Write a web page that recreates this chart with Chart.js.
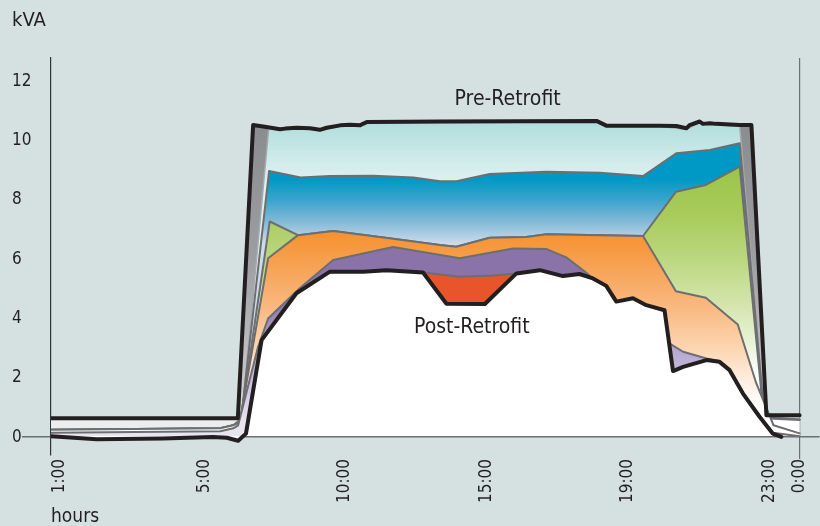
<!DOCTYPE html>
<html lang="en">
<head>
<meta charset="UTF-8">
<title>Pre- and Post-Retrofit Load Profile</title>
<script src="https://cdn.jsdelivr.net/npm/chart.js"></script>
<style>
    body { margin: 0; background: #d5e1e1; }
    canvas { display: block; }
</style>
</head>
<body>
<canvas id="load-chart" width="820" height="526"></canvas>
<script>
    const FONT = "'Liberation Sans Narrow', 'DejaVu Sans Condensed', 'Roboto Condensed', sans-serif";
    const INK = '#231f20';
    const EDGE = '#6d6e70';

    // hour labels and where they sit on the axis
    const xTickPos = [1.25, 5.73, 10.03, 14.39, 18.72, 23.08, 24.0];
    const xTickLabels = ['1:00', '5:00', '10:00', '15:00', '19:00', '23:00', '0:00'];
    const yTicks = [0, 2, 4, 6, 8, 10, 12];

    // [x, kVA] pairs
    const preRetrofit = [[1.0, 0.64], [6.74, 0.64], [7.21, 10.52], [7.52, 10.47], [8.04, 10.38], [8.19, 10.40],
        [8.55, 10.43], [8.96, 10.41], [9.26, 10.36], [9.47, 10.43], [9.88, 10.51], [10.19, 10.53], [10.49, 10.51],
        [10.60, 10.57], [10.70, 10.62], [12.95, 10.64], [17.76, 10.66], [18.06, 10.50], [19.70, 10.50],
        [20.21, 10.49], [20.52, 10.41], [20.62, 10.52], [20.93, 10.64], [21.03, 10.56], [21.24, 10.58],
        [21.44, 10.56], [22.16, 10.52], [22.52, 10.52], [22.98, 0.74], [24.0, 0.74]];

    const postRetrofit = [[1.0, 0.03], [2.4, -0.07], [4.44, -0.04], [5.97, 0.01], [6.4, -0.02], [6.75, -0.12],
        [6.99, 0.12], [7.47, 3.27], [8.54, 4.85], [9.57, 5.58], [10.59, 5.58], [11.31, 5.63], [12.43, 5.55],
        [13.15, 4.50], [14.33, 4.49], [15.30, 5.52], [16.02, 5.63], [16.73, 5.43], [17.24, 5.50], [17.65, 5.35],
        [18.06, 5.10], [18.37, 4.57], [18.88, 4.68], [19.29, 4.45], [19.85, 4.28], [20.11, 2.23], [20.42, 2.37],
        [21.14, 2.60], [21.54, 2.54], [21.85, 2.26], [22.26, 1.47], [22.77, 0.69], [23.18, 0.12], [23.44, 0.01]];

    const dipTop = [[12.43, 5.55], [13.56, 5.41], [14.6, 5.45], [15.3, 5.52]];

    const purpleTop = [[1.0, 0.15], [6.2, 0.2], [6.6, 0.3], [6.75, 0.4], [7.35, 3.0], [7.67, 4.0], [8.65, 5.03],
        [9.67, 5.97], [11.51, 6.41], [13.56, 6.03], [15.20, 6.36], [16.23, 6.34], [16.85, 6.05], [17.47, 5.52],
        [17.65, 5.35], [18.06, 5.10], [18.37, 4.57], [18.88, 4.68], [19.29, 4.45], [19.85, 4.28], [20.0, 3.16],
        [20.42, 2.88], [21.14, 2.65], [21.54, 2.56], [21.85, 2.28], [22.26, 1.5], [22.77, 0.72], [23.18, 0.15],
        [24.0, 0.03]];

    const orangeTop = [[1.0, 0.25], [6.2, 0.3], [6.6, 0.4], [6.8, 0.5], [7.67, 6.03], [8.59, 6.81], [9.67, 6.95],
        [11.51, 6.69], [12.95, 6.48], [13.45, 6.42], [14.48, 6.72], [15.6, 6.75], [16.23, 6.84], [19.19, 6.78],
        [20.2, 4.92], [21.12, 4.7], [22.1, 3.8], [22.67, 1.81], [23.2, 0.4], [24.0, 0.13]];

    const greenTop = [[1.0, 0.25], [6.2, 0.3], [6.6, 0.4], [6.82, 0.55], [7.72, 7.27], [8.59, 6.81], [9.67, 6.95],
        [11.51, 6.69], [12.95, 6.48], [13.45, 6.42], [14.48, 6.72], [15.6, 6.75], [16.23, 6.84], [19.19, 6.78],
        [20.2, 8.27], [21.12, 8.5], [22.16, 9.12], [22.9, 0.64], [24.0, 0.58]];

    const blueTop = [[1.0, 0.25], [6.2, 0.3], [6.6, 0.4], [6.84, 0.6], [7.70, 8.97], [8.67, 8.75], [9.57, 8.80],
        [10.9, 8.81], [12.13, 8.75], [12.95, 8.63], [13.46, 8.63], [13.77, 8.70], [14.48, 8.87], [16.22, 8.95],
        [17.86, 8.91], [19.19, 8.80], [20.21, 9.57], [21.24, 9.68], [22.16, 9.91], [22.92, 0.66], [24.0, 0.6]];

    const cyanTop = [[1.0, 0.25], [6.2, 0.3], [6.6, 0.4], [6.86, 0.65], [7.69, 10.42], [8.04, 10.36], [8.55, 10.41],
        [9.26, 10.34], [9.88, 10.48], [10.7, 10.58], [12.95, 10.6], [17.76, 10.62], [18.06, 10.47], [19.7, 10.47],
        [20.52, 10.38], [20.93, 10.6], [21.44, 10.52], [22.16, 10.48], [22.93, 0.68], [24.0, 0.62]];

    const curveNames = ['Pre-Retrofit', 'Post-Retrofit'];
    const curveNameX = [15.03, 13.93];
    const curveNameY = [11.37, 3.71];

    function pts(pairs) {
        return pairs.map(p => ({x: p[0], y: p[1]}));
    }

    // vertical gradient, stops given as [kVA, colour] from top to bottom
    function vGrad(stops) {
        return function (context) {
            const chart = context.chart;
            const y = chart.scales.y;
            if (!chart.chartArea || !y) return 'rgba(0,0,0,0)';
            const top = y.getPixelForValue(stops[0][0]);
            const bottom = y.getPixelForValue(stops[stops.length - 1][0]);
            const g = chart.ctx.createLinearGradient(0, top, 0, bottom);
            stops.forEach(s => g.addColorStop((y.getPixelForValue(s[0]) - top) / (bottom - top), s[1]));
            return g;
        };
    }

    // fills stop just above zero so the zero line stays visible under them
    function band(data, fillColor, line, width) {
        return {
            data: pts(data),
            borderColor: line,
            borderWidth: width,
            backgroundColor: fillColor,
            fill: {value: 0.04}
        };
    }

    const curveLabels = {
        id: 'curveLabels',
        afterDatasetsDraw(chart) {
            const c = chart.ctx;
            c.save();
            c.fillStyle = INK;
            c.font = '21px ' + FONT;
            c.textAlign = 'center';
            c.textBaseline = 'middle';
            for (let i = 0; i < curveNames.length; i++) {
                c.fillText(curveNames[i], chart.scales.x.getPixelForValue(curveNameX[i]),
                    chart.scales.y.getPixelForValue(curveNameY[i]));
            }
            c.restore();
        }
    };

    const tickFont = {family: FONT, size: 17};

    new Chart(document.getElementById('load-chart'), {
        type: 'line',
        data: {
            datasets: [
                {data: pts(preRetrofit), borderColor: INK, borderWidth: 4, fill: false},
                band(postRetrofit, '#ffffff', INK, 4),
                band(dipTop, '#e9552a', EDGE, 2),
                band(purpleTop, vGrad([[6.5, '#8a73a8'], [4.6, '#8a73a8'], [3.5, '#ac9bc7'], [2.5, '#beb1d6'], [0.5, '#e8e4f0']]), EDGE, 2),
                band(orangeTop, vGrad([[6.9, '#f5922f'], [6.0, '#f69f4c'], [4.5, '#f9b67d'], [3.0, '#fdd5b1'], [1.8, '#fff0e4'], [1.0, '#ffffff']]), EDGE, 2),
                band(greenTop, vGrad([[9.2, '#9cc447'], [7.5, '#a8cb5b'], [6.0, '#bcd781'], [4.5, '#d3e5ac'], [3.0, '#ecf4dd'], [2.0, '#ffffff']]), EDGE, 2),
                band(blueTop, vGrad([[9.9, '#0099c6'], [8.7, '#0099c6'], [8.0, '#3aa4cb'], [7.3, '#80b8d6'], [6.5, '#cddcec']]), EDGE, 2),
                band(cyanTop, vGrad([[10.5, '#b2dfdd'], [9.2, '#d4ecec'], [8.5, '#e0f1f1']]), '#a7a9ac', 1.5),
                band(preRetrofit, vGrad([[10.6, '#8a8c8f'], [6, '#9c9ea1'], [2, '#c4c6c8'], [0.5, '#eceeed']]), 'rgba(0,0,0,0)', 0)
            ]
        },
        options: {
            responsive: false,
            animation: false,
            layout: {padding: {left: 12, right: 0, top: 0, bottom: 0}},
            elements: {
                point: {radius: 0},
                line: {tension: 0, borderJoinStyle: 'round', borderCapStyle: 'round'}
            },
            plugins: {
                legend: {display: false},
                tooltip: {enabled: false},
                title: {
                    display: true,
                    text: 'kVA',
                    align: 'start',
                    color: INK,
                    font: {family: FONT, size: 20, weight: 'normal'},
                    padding: {top: 9, bottom: 25}
                }
            },
            scales: {
                x: {
                    type: 'linear',
                    min: 1,
                    max: 24.61,
                    afterBuildTicks: s => { s.ticks = xTickPos.map(v => ({value: v})); },
                    afterFit: s => { s.height = 71; },
                    ticks: {
                        callback: (v, i) => xTickLabels[i],
                        autoSkip: false,
                        minRotation: 90,
                        maxRotation: 90,
                        padding: 0,
                        color: INK,
                        font: tickFont
                    },
                    grid: {
                        color: c => (c.index === xTickPos.length - 1 ? EDGE : 'rgba(0,0,0,0)'),
                        lineWidth: 1.2,
                        tickLength: 4
                    },
                    border: {display: false},
                    title: {
                        display: true,
                        text: 'hours',
                        align: 'start',
                        color: INK,
                        font: {family: FONT, size: 19},
                        padding: {top: 0, bottom: -2}
                    }
                },
                y: {
                    min: -0.6,
                    max: 12.78,
                    afterBuildTicks: s => { s.ticks = yTicks.map(v => ({value: v})); },
                    afterFit: s => { s.width = 39; },
                    ticks: {crossAlign: 'far', padding: 0, color: INK, font: tickFont},
                    grid: {
                        color: c => (c.tick && c.tick.value === 0 ? EDGE : 'rgba(0,0,0,0)'),
                        lineWidth: 1.5,
                        tickLength: 29
                    },
                    border: {display: true, color: '#333333', width: 1.2}
                }
            }
        },
        plugins: [curveLabels]
    });
</script>
</body>
</html>
